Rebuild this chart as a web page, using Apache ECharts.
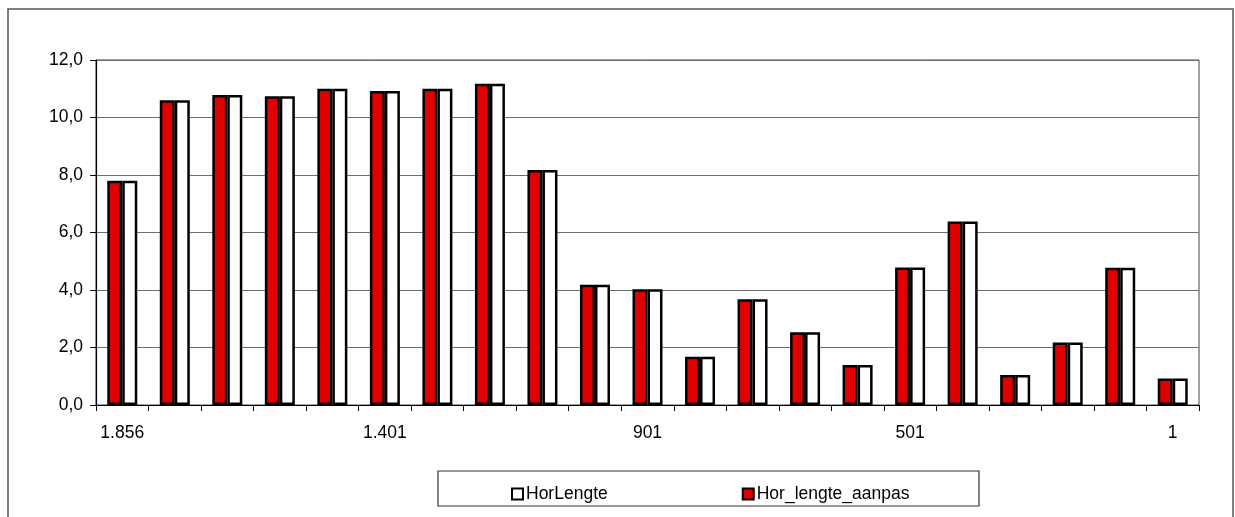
<!DOCTYPE html>
<html>
<head>
<meta charset="utf-8">
<script src="https://cdn.jsdelivr.net/npm/echarts@6/dist/echarts.min.js"></script>
<style>html,body{margin:0;padding:0;background:#fff;}#c{width:1235px;height:517px;}</style>
</head>
<body>
<div id="c"></div>
<script>
const categories = ['1.856','','','','','1.401','','','','','901','','','','','501','','','','','1'];
const horLengte = [7.8,10.6,10.78,10.74,11.0,10.92,11.0,11.17,8.17,4.18,4.03,1.68,3.68,2.53,1.39,4.78,6.38,1.04,2.17,4.77,0.92];
const horLengteAanpas = [7.8,10.6,10.78,10.74,11.0,10.92,11.0,11.17,8.17,4.18,4.03,1.68,3.68,2.53,1.39,4.78,6.38,1.04,2.17,4.77,0.92];
const yTicks = { min: 0, max: 12, interval: 2 };

const chart = echarts.init(document.getElementById('c'), null, {renderer:'canvas'});
const font = 'Liberation Sans, Arial, sans-serif';
chart.setOption({
  animation: false,
  backgroundColor: '#ffffff',
  graphic: [
    { type: 'rect', shape: { x: 8, y: 9, width: 1225, height: 530 }, style: { fill: 'none', stroke: '#555', lineWidth: 1.5 }, z: 0 },
    { type: 'rect', shape: { x: 438, y: 471, width: 541, height: 35 }, style: { fill: '#fff', stroke: '#333', lineWidth: 1.2 }, z: 1 }
  ],
  grid: { left: 96, right: 36, top: 60, bottom: 112, show: true, borderColor: '#444', borderWidth: 1 },
  legend: {
    data: ['HorLengte', 'Hor_lengte_aanpas'],
    left: 506, top: 480, itemWidth: 11, itemHeight: 11, itemGap: 134,
    icon: 'rect',
    z: 5,
    textStyle: { fontFamily: font, fontSize: 17.5, color: '#000', padding: [0,0,0,-2] },
    itemStyle: { borderColor: '#000', borderWidth: 2 }
  },
  xAxis: {
    type: 'category', data: categories, boundaryGap: true,
    axisLine: { lineStyle: { color: '#000', width: 1.2 } },
    axisTick: { show: true, interval: 0, length: 6, lineStyle: { color: '#000' } },
    axisLabel: { interval: 0, margin: 19, fontFamily: font, fontSize: 17.5, color: '#000' },
    splitLine: { show: false }
  },
  yAxis: {
    type: 'value', min: yTicks.min, max: yTicks.max, interval: yTicks.interval,
    axisLine: { show: true, lineStyle: { color: '#000', width: 1.2 } },
    axisTick: { show: true, length: 6, lineStyle: { color: '#000' } },
    axisLabel: { margin: 13, fontFamily: font, fontSize: 17.5, color: '#000',
      formatter: v => v.toFixed(1).replace('.', ',') },
    splitLine: { show: true, lineStyle: { color: '#6e6e6e', width: 1.2 } }
  },
  series: [
    { name: 'Hor_lengte_aanpas', type: 'bar', data: horLengteAanpas, barWidth: 15, barGap: '0%',
      itemStyle: { color: '#e00000', borderColor: '#000', borderWidth: 2.5 } },
    { name: 'HorLengte', type: 'bar', data: horLengte, barWidth: 15, barGap: '0%',
      itemStyle: { color: '#ffffff', borderColor: '#000', borderWidth: 2.5 } }
  ]
});
</script>
</body>
</html>
